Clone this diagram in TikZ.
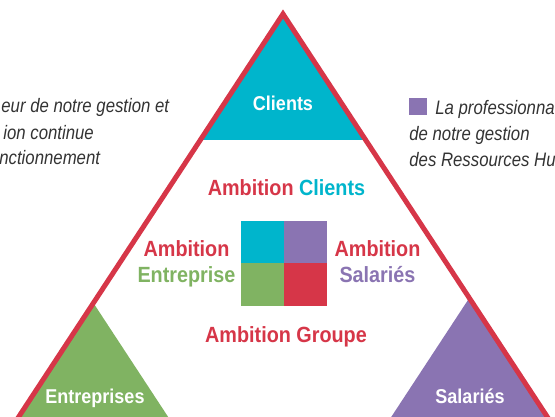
\documentclass[tikz,border=0pt]{standalone}
\usepackage{fontspec}
\setmainfont{Liberation Sans}[FakeStretch=0.9]
\newfontfamily\notefont{Liberation Sans}[FakeStretch=0.86]
\usetikzlibrary{positioning}

\definecolor{ambred}{RGB}{214,54,72}
\definecolor{ambcyan}{RGB}{0,181,204}
\definecolor{ambpurple}{RGB}{138,116,178}
\definecolor{ambgreen}{RGB}{128,179,98}
\definecolor{notegray}{RGB}{51,51,51}

\tikzset{every picture/.style={line width=0.75pt}}
\tikzset{
  bigtxt/.style={font=\fontsize{22}{24}\selectfont\bfseries, inner sep=0pt, anchor=base},
  cornertxt/.style={font=\fontsize{20}{22}\selectfont\bfseries, text=white, inner sep=0pt, anchor=base},
  notetxt/.style={font=\notefont\itshape\fontsize{19.5}{21}\selectfont, text=notegray, inner sep=0pt, anchor=base west},
  cell/.style={minimum width=43pt, minimum height=42.5pt, inner sep=0pt, outer sep=0pt},
}

\begin{document}
\begin{tikzpicture}[x=1pt,y=1pt,yscale=-1]
\useasboundingbox (0,0) rectangle (555,417);
\clip (0,0) rectangle (555,417);

%Shape: Triangle [Clients]
\fill [ambcyan] (283,14) -- (365.7,140) -- (200.3,140) -- cycle ;
%Shape: Triangle [Entreprises]
\fill [ambgreen] (93.4,303) -- (196.4,460) -- (-9.6,460) -- cycle ;
%Shape: Triangle [Salaries]
\fill [ambpurple] (469.3,298) -- (575.6,460) -- (363,460) -- cycle ;
%Shape: Outline
\draw [ambred, line width=5pt, line join=miter] (-9.6,460) -- (283,14) -- (575.6,460) ;

%Shape: Squares
\node [cell, fill=ambcyan] (cellC) at (262.5,242.25) {};
\node [cell, fill=ambpurple, right=0pt of cellC] (cellS) {};
\node [cell, fill=ambgreen, below=0pt of cellC] (cellE) {};
\node [cell, fill=ambred, right=0pt of cellE] (cellG) {};

% Text Node
\node [cornertxt] (lblClients) at (283,111) {Clients};
% Text Node
\node [cornertxt] (lblEntreprises) at (95,403) {Entreprises};
% Text Node
\node [cornertxt] (lblSalaries) at (470,403) {Salariés};

% Text Node
\node [bigtxt] (ambClients) at (286.5,196) {\textcolor{ambred}{Ambition} \textcolor{ambcyan}{Clients}};
% Text Node
\node [bigtxt, text=ambred] (ambEntA) at (186.5,257) {Ambition};
\node [bigtxt, text=ambgreen] (ambEntB) at (186.5,283) {Entreprise};
% Text Node
\node [bigtxt, text=ambred] (ambSalA) at (377.5,257) {Ambition};
\node [bigtxt, text=ambpurple] (ambSalB) at (377.5,283) {Salariés};
% Text Node
\node [bigtxt, text=ambred] (ambGroupe) at (286,342) {Ambition Groupe};

% Text Node
\node [notetxt] (noteL1) at (1,113) {eur de notre gestion et};
\node [notetxt] (noteL2) at (3,140) {ion continue};
\node [notetxt] (noteL3) at (-1,165) {nctionnement};

% Text Node
\node [fill=ambpurple, minimum width=18pt, minimum height=17pt, inner sep=0pt] (bullet) at (418,106.5) {};
\node [notetxt] (noteR1) at (435,115) {La professionna};
\node [notetxt] (noteR2) at (409,141) {de notre gestion};
\node [notetxt] (noteR3) at (409,167) {des Ressources Hu};

\end{tikzpicture}
\end{document}
